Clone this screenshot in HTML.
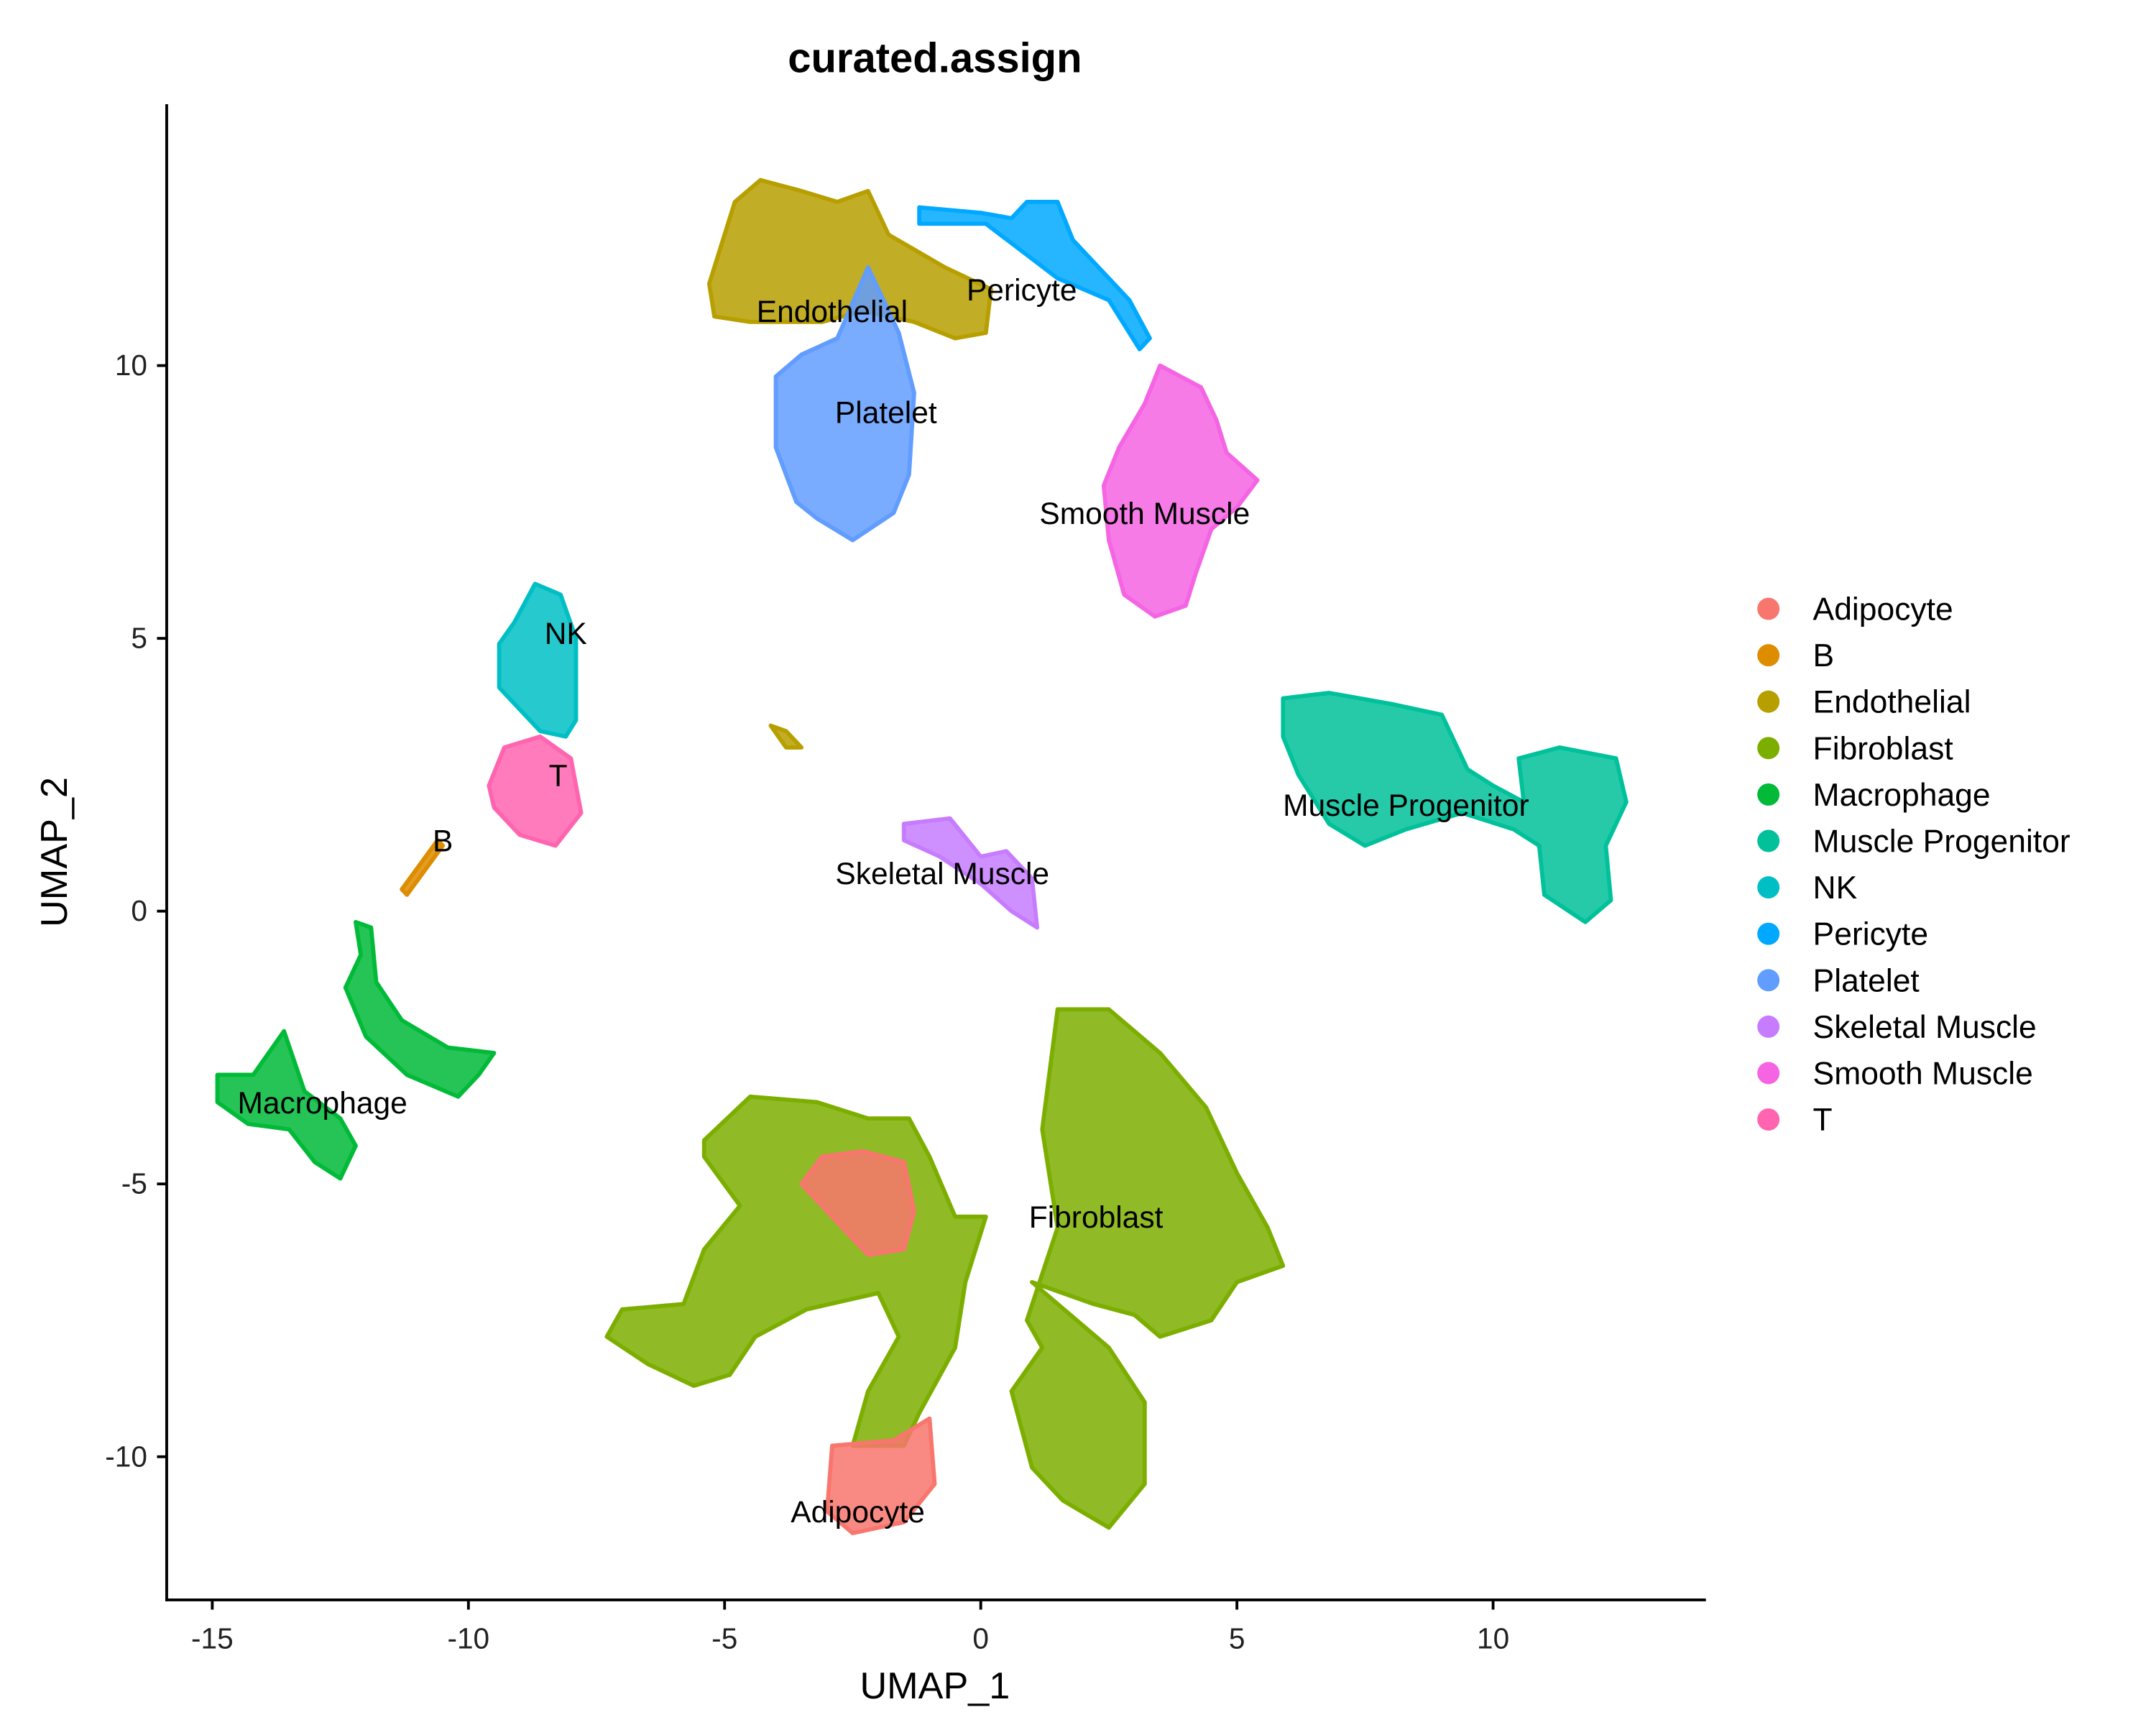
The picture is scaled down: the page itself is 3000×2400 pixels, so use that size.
<!DOCTYPE html>
<html><head><meta charset="utf-8"><style>
html,body{margin:0;padding:0;background:#fff;}
svg{display:block;font-family:"Liberation Sans",sans-serif;}
</style></head><body>
<svg id="chart" width="3000" height="2400" viewBox="0 0 1552 1241" preserveAspectRatio="none" xmlns="http://www.w3.org/2000/svg">
<rect width="1552" height="1241" fill="#fff"/>
<text x="673" y="52" text-anchor="middle" font-size="30" font-weight="bold">curated.assign</text>
<g id="clusters"></g>
<g id="labels"></g>
<g id="axes"></g>
<g id="legend"></g>
<text x="673" y="1222" text-anchor="middle" font-size="27">UMAP_1</text>
<text transform="translate(48,613) rotate(-90)" text-anchor="middle" font-size="27">UMAP_2</text>
</svg>
<script>
const categories = ["Adipocyte","B","Endothelial","Fibroblast","Macrophage","Muscle Progenitor","NK","Pericyte","Platelet","Skeletal Muscle","Smooth Muscle","T"];
const colors = ["#F8766D","#DE8C00","#B79F00","#7CAE00","#00BA38","#00C19A","#00BFC4","#00A9FF","#619CFF","#C77CFF","#F564E3","#FF64B0"];
const xTicks = [-15,-10,-5,0,5,10];
const yTicks = [-10,-5,0,5,10];
const fibroblastShapes = [
 [[1.5,-1.8],[2.5,-1.8],[3.5,-2.6],[4.4,-3.6],[5.0,-4.8],[5.6,-5.8],[5.9,-6.5],[5.0,-6.8],[4.5,-7.5],[3.5,-7.8],[3.0,-7.4],[2.2,-7.2],[1.0,-6.8],[2.5,-8],[3.2,-9],[3.2,-10.5],[2.5,-11.3],[1.6,-10.8],[1.0,-10.2],[0.6,-8.8],[1.2,-8.0],[0.9,-7.5],[1.5,-5.8],[1.2,-4.0]],
 [[-5.4,-4.2],[-4.5,-3.4],[-3.2,-3.5],[-2.2,-3.8],[-1.4,-3.8],[-1.0,-4.5],[-0.5,-5.6],[0.1,-5.6],[-0.3,-6.8],[-0.5,-8],[-1.2,-9.2],[-1.5,-9.8],[-2.5,-9.8],[-2.2,-8.8],[-1.6,-7.8],[-2.0,-7.0],[-3.4,-7.3],[-4.4,-7.8],[-4.9,-8.5],[-5.6,-8.7],[-6.5,-8.3],[-7.3,-7.8],[-7.0,-7.3],[-5.8,-7.2],[-5.4,-6.2],[-4.7,-5.4],[-5.4,-4.5]]
];
const adipocyteShapes = [
 [[-2.9,-9.8],[-1.7,-9.7],[-1.0,-9.3],[-0.9,-10.5],[-1.5,-11.2],[-2.5,-11.4],[-3.0,-11.0]],
 [[-3.1,-4.5],[-2.3,-4.4],[-1.5,-4.6],[-1.3,-5.5],[-1.5,-6.2],[-2.2,-6.3],[-3.0,-5.5],[-3.5,-5.0]]
];
const endothelialShapes = [
 [[-5.3,11.5],[-4.8,13],[-4.3,13.4],[-3.5,13.2],[-2.8,13],[-2.2,13.2],[-1.8,12.4],[-0.7,11.8],[0.2,11.4],[0.1,10.6],[-0.5,10.5],[-1.3,10.8],[-2.3,11],[-3.1,10.8],[-4.5,10.8],[-5.2,10.9]],
 [[-4.1,3.4],[-3.8,3.3],[-3.5,3.0],[-3.8,3.0]]
];
const plateletShapes = [[[-4,9.8],[-3.5,10.2],[-2.8,10.5],[-2.2,11.8],[-1.6,10.6],[-1.3,9.5],[-1.4,8],[-1.7,7.3],[-2.5,6.8],[-3.2,7.2],[-3.6,7.5],[-4,8.5]]];
const pericyteShapes = [[[-1.2,12.9],[0,12.8],[0.6,12.7],[0.9,13],[1.5,13],[1.8,12.3],[2.3,11.8],[2.9,11.2],[3.3,10.5],[3.1,10.3],[2.5,11.2],[1.5,11.6],[0.8,12.1],[0.1,12.6],[-1.2,12.6]]];
const smoothShapes = [[[3.5,10],[4.3,9.6],[4.6,9],[4.8,8.4],[5.4,7.9],[5,7.4],[4.5,7],[4.2,6.2],[4,5.6],[3.4,5.4],[2.8,5.8],[2.5,6.8],[2.4,7.8],[2.7,8.5],[3.2,9.3]]];
const nkShapes = [[[-9.4,4.9],[-9.1,5.3],[-8.7,6],[-8.2,5.8],[-7.9,5],[-7.9,3.5],[-8.1,3.2],[-8.6,3.3],[-9.0,3.7],[-9.4,4.1]]];
const tShapes = [[[-9.6,2.3],[-9.3,3.0],[-8.6,3.2],[-8.0,2.8],[-7.8,1.8],[-8.3,1.2],[-9.0,1.4],[-9.5,1.9]]];
const bShapes = [[[-11.3,0.4],[-10.6,1.3],[-10.5,1.2],[-11.2,0.3]]];
const macrophageShapes = [
 [[-14.9,-3.0],[-14.2,-3.0],[-13.6,-2.2],[-13.2,-3.3],[-12.5,-3.8],[-12.2,-4.3],[-12.5,-4.9],[-13.0,-4.6],[-13.5,-4.0],[-14.3,-3.9],[-14.9,-3.5]],
 [[-12.2,-0.2],[-11.9,-0.3],[-11.8,-1.3],[-11.3,-2.0],[-10.4,-2.5],[-9.5,-2.6],[-9.8,-3.0],[-10.2,-3.4],[-11.2,-3.0],[-12.0,-2.3],[-12.4,-1.4],[-12.1,-0.8]]
];
const progenitorShapes = [[[5.9,3.9],[6.8,4.0],[8.0,3.8],[9.0,3.6],[9.5,2.6],[10.0,2.3],[10.6,2.0],[10.5,2.8],[11.3,3.0],[12.4,2.8],[12.6,2.0],[12.2,1.2],[12.3,0.2],[11.8,-0.2],[11.0,0.3],[10.9,1.2],[10.4,1.5],[9.4,1.8],[8.3,1.5],[7.5,1.2],[6.8,1.6],[6.2,2.5],[5.9,3.2]]];
const skeletalShapes = [[[-1.5,1.6],[-0.6,1.7],[0,1.0],[0.5,1.1],[1.0,0.6],[1.1,-0.3],[0.6,0],[0,0.5],[-0.8,1.0],[-1.5,1.3]]];
const labelNames = ["Endothelial","Pericyte","Platelet","Smooth Muscle","NK","T","B","Muscle Progenitor","Skeletal Muscle","Macrophage","Fibroblast","Adipocyte"];
const labelX = [-2.9,0.8,-1.85,3.2,-8.1,-8.25,-10.5,8.3,-0.75,-12.85,2.25,-2.4];
const labelY = [11.0,11.4,9.15,7.3,5.1,2.5,1.3,1.95,0.7,-3.5,-5.6,-11.0];

const sx = v => 706 + v*36.88;
const sy = v => 655.5 - v*39.25;
const NS = "http://www.w3.org/2000/svg";
const groups = [
 ["Fibroblast",fibroblastShapes],["Adipocyte",adipocyteShapes],["Endothelial",endothelialShapes],
 ["Platelet",plateletShapes],["Pericyte",pericyteShapes],["Smooth Muscle",smoothShapes],
 ["NK",nkShapes],["T",tShapes],["B",bShapes],["Macrophage",macrophageShapes],
 ["Muscle Progenitor",progenitorShapes],["Skeletal Muscle",skeletalShapes]];
const cg = document.getElementById("clusters");
groups.forEach(([name,shapes])=>{
  const col = colors[categories.indexOf(name)];
  shapes.forEach(s=>{
    const p = document.createElementNS(NS,"polygon");
    p.setAttribute("points", s.map(q=>sx(q[0])+","+sy(q[1])).join(" "));
    p.setAttribute("fill", col);
    p.setAttribute("stroke", col);
    p.setAttribute("stroke-width", "3");
    p.setAttribute("stroke-linejoin", "round");
    p.setAttribute("fill-opacity", "0.85");
    
    
    cg.appendChild(p);
  });
});
const lg = document.getElementById("labels");
labelNames.forEach((n,i)=>{
  const t = document.createElementNS(NS,"text");
  t.setAttribute("x", sx(labelX[i])); t.setAttribute("y", sy(labelY[i])+8);
  t.setAttribute("text-anchor","middle"); t.setAttribute("font-size","22");
  t.textContent = n;
  
  
  lg.appendChild(t);
});
const ax = document.getElementById("axes");
function line(x1,y1,x2,y2,name){
  const l = document.createElementNS(NS,"line");
  l.setAttribute("x1",x1);l.setAttribute("y1",y1);l.setAttribute("x2",x2);l.setAttribute("y2",y2);
  l.setAttribute("stroke","#000");l.setAttribute("stroke-width","2");
  
  
  ax.appendChild(l);
}
line(120,75,120,1152,'y-axis-line');
line(119,1151,1228,1151,'x-axis-line');
xTicks.forEach(v=>{
  line(sx(v),1151,sx(v),1158,'x-tick');
  const t=document.createElementNS(NS,"text");
  t.setAttribute("x",sx(v));t.setAttribute("y",1186);t.setAttribute("text-anchor","middle");t.setAttribute("font-size","21");t.setAttribute("fill","#222");
  t.textContent=v;
  
  
  ax.appendChild(t);
});
yTicks.forEach(v=>{
  line(113,sy(v),120,sy(v),'y-tick');
  const t=document.createElementNS(NS,"text");
  t.setAttribute("x",106);t.setAttribute("y",sy(v)+7);t.setAttribute("text-anchor","end");t.setAttribute("font-size","21");t.setAttribute("fill","#222");
  t.textContent=v;
  
  
  ax.appendChild(t);
});
const leg = document.getElementById("legend");
categories.forEach((c,i)=>{
  const y = 438 + i*33.4;
  const ci=document.createElementNS(NS,"circle");
  ci.setAttribute("cx",1273);ci.setAttribute("cy",y);ci.setAttribute("r",8);ci.setAttribute("fill",colors[i]);
  
  
  leg.appendChild(ci);
  const t=document.createElementNS(NS,"text");
  t.setAttribute("x",1305);t.setAttribute("y",y+8);t.setAttribute("font-size","23");
  t.textContent=c;
  
  
  leg.appendChild(t);
});
</script>
</body></html>
